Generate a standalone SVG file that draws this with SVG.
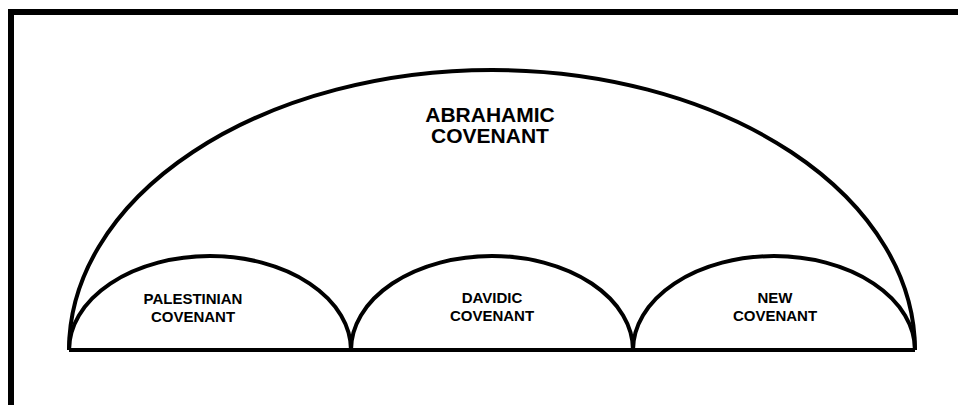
<svg xmlns="http://www.w3.org/2000/svg" width="958" height="405" viewBox="0 0 958 405">
<style>
.arc{fill:none;stroke:#000;stroke-width:4}
.t{font-family:"Liberation Sans",Arial,sans-serif;font-weight:bold;fill:#000;text-anchor:middle}
.big{font-size:21px}
.sm{font-size:15px}
</style>
<rect x="0" y="0" width="958" height="405" fill="#fff"/>
<g id="frame">
<path d="M8 12H958M11 9V405" stroke="#000" stroke-width="6" fill="none"/>
</g>
<g id="abrahamic">
<path class="arc" d="M69 350A423 280 0 0 1 915 350"/>
<text class="t big" x="490" y="122">ABRAHAMIC</text>
<text class="t big" x="490" y="143">COVENANT</text>
</g>
<g id="palestinian">
<path class="arc" d="M69 350A141 94 0 0 1 351 350"/>
<text class="t sm" x="193" y="304">PALESTINIAN</text>
<text class="t sm" x="193" y="322">COVENANT</text>
</g>
<g id="davidic">
<path class="arc" d="M351 350A141 94 0 0 1 633 350"/>
<text class="t sm" x="492" y="303">DAVIDIC</text>
<text class="t sm" x="492" y="321">COVENANT</text>
</g>
<g id="new">
<path class="arc" d="M633 350A141 94 0 0 1 915 350"/>
<text class="t sm" x="775" y="303">NEW</text>
<text class="t sm" x="775" y="321">COVENANT</text>
</g>
<g id="connectors">
<path d="M69 350H915" stroke="#000" stroke-width="4" fill="none"/>
</g>
</svg>
